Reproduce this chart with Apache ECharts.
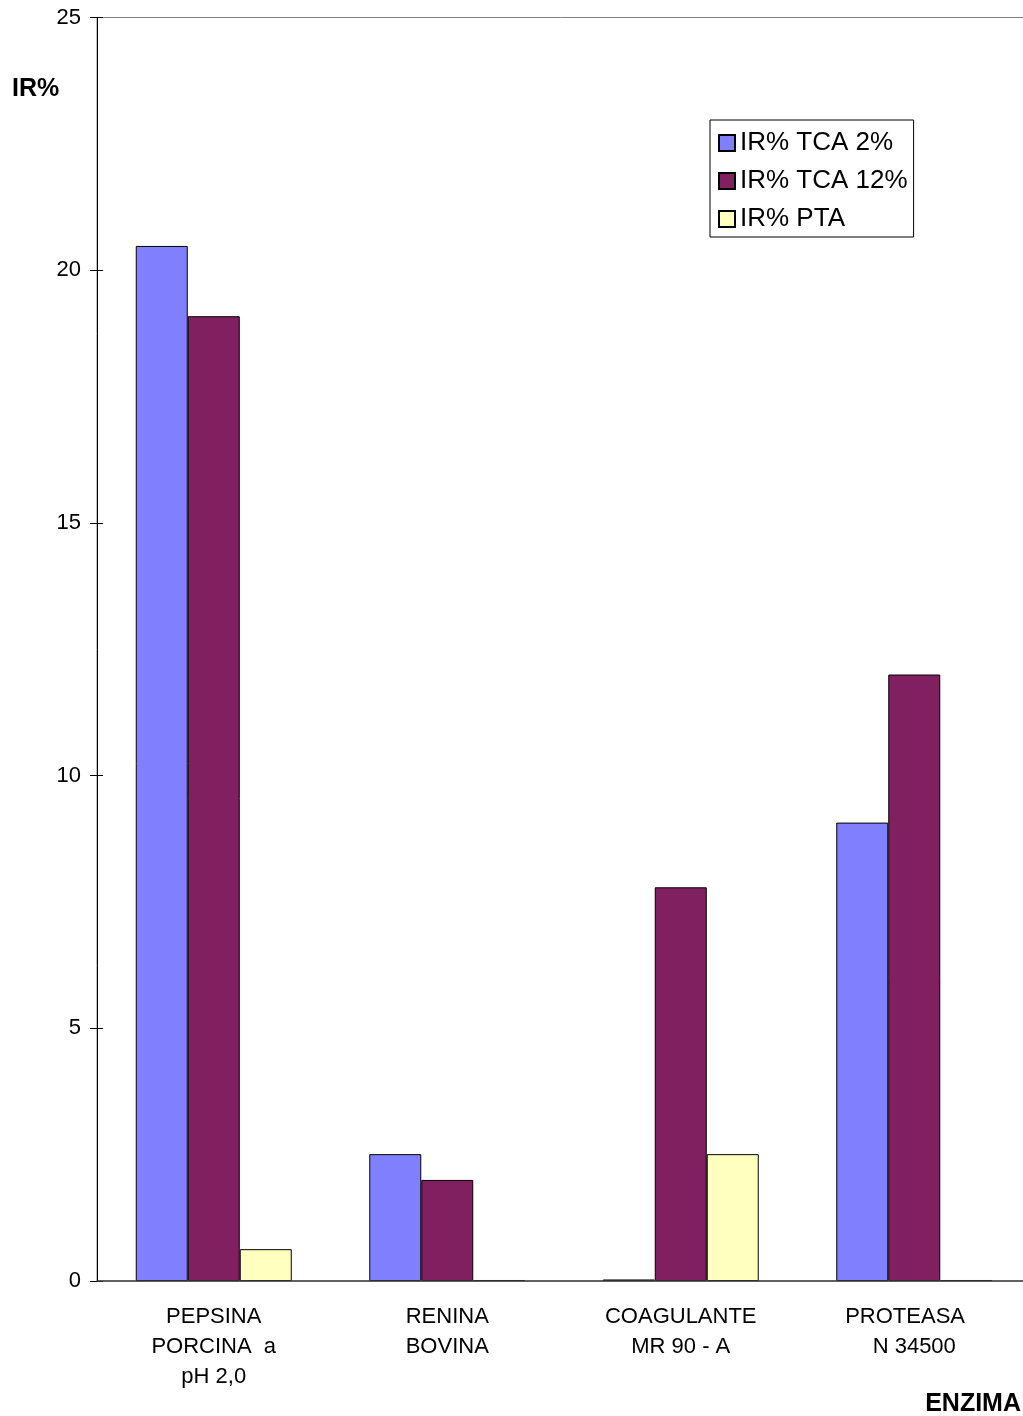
<!DOCTYPE html>
<html>
<head>
<meta charset="utf-8">
<script src="https://cdn.jsdelivr.net/npm/echarts@6/dist/echarts.min.js"></script>
<style>
html,body{margin:0;padding:0;background:#fff;}
#c{width:1023px;height:1416px;}
</style>
</head>
<body>
<div id="c"></div>
<script>
var categories = ['PEPSINA\nPORCINA  a\npH 2,0', 'RENINA\nBOVINA', 'COAGULANTE\nMR 90 - A', 'PROTEASA   \nN 34500'];
var seriesNames = ['IR% TCA 2%', 'IR% TCA 12%', 'IR% PTA'];
var tca2 = [20.48, 2.51, 0.03, 9.07];
var tca12 = [19.09, 2.0, 7.79, 12.0];
var pta = [0.63, 0.02, 2.51, 0.02];
var yTicks = [0, 5, 10, 15, 20, 25];

var FONT = '"Liberation Sans", Arial, sans-serif';
var colors = ['#8080FF', '#802060', '#FFFFC0'];
var chart = echarts.init(document.getElementById('c'), null, {renderer: 'canvas'});

function bar(name, data, color) {
  return {
    name: name, type: 'bar', data: data, barWidth: 52, barGap: '0%',
    yAxisIndex: 0,
    itemStyle: {color: color, borderColor: '#000', borderWidth: 1},
    emphasis: {disabled: true}
  };
}

chart.setOption({
  animation: false,
  backgroundColor: '#fff',
  textStyle: {fontFamily: FONT},
  grid: {left: 97, top: 17.5, height: 1263.5, width: 934, show: true, borderColor: '#808080', borderWidth: 1, containLabel: false, outerBoundsMode: 'none'},
  legend: {
    orient: 'vertical', left: 710, top: 120,
    padding: [10, 6, 5, 8], itemGap: 12, itemWidth: 16, itemHeight: 16,
    borderColor: '#000', borderWidth: 1,
    icon: 'rect',
    textStyle: {fontSize: 26, color: '#000', fontFamily: FONT},
    data: seriesNames
  },
  xAxis: {
    type: 'category', data: categories,
    axisLine: {lineStyle: {color: '#404040', width: 1.5}},
    axisTick: {show: false},
    axisLabel: {fontSize: 22, color: '#000', lineHeight: 30, margin: 21, fontFamily: FONT, interval: 0},
    z: 3
  },
  yAxis: [{
    type: 'value', min: yTicks[0], max: yTicks[yTicks.length - 1], interval: 5,
    axisLine: {show: true, lineStyle: {color: '#000', width: 1}},
    axisTick: {show: true, length: 7, lineStyle: {color: '#000'}},
    axisLabel: {fontSize: 22, color: '#000', margin: 16, fontFamily: FONT},
    splitLine: {show: false}
  }, {
    type: 'value', position: 'left', min: yTicks[0], max: yTicks[yTicks.length - 1], interval: 5,
    axisLine: {show: false},
    axisTick: {show: true, inside: true, length: 6, lineStyle: {color: '#000'}},
    axisLabel: {show: false},
    splitLine: {show: false}
  }],
  graphic: [
    {type: 'text', left: 12, top: 77, style: {text: 'IR%', font: 'bold 25px ' + FONT, fill: '#000'}},
    {type: 'text', right: 2, top: 1392, style: {text: 'ENZIMA', font: 'bold 25px ' + FONT, fill: '#000'}}
  ],
  series: [
    bar(seriesNames[0], tca2, colors[0]),
    bar(seriesNames[1], tca12, colors[1]),
    bar(seriesNames[2], pta, colors[2])
  ]
});
</script>
</body>
</html>
